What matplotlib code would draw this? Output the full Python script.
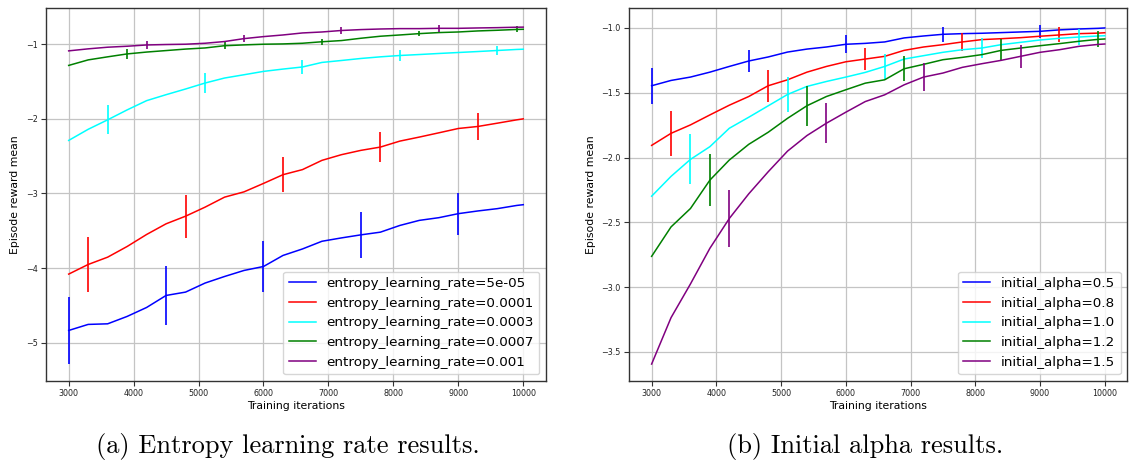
import matplotlib
matplotlib.use("Agg")
import matplotlib.pyplot as plt

# training iterations at which the curves were read (every 300 plus the end)
iters = list(range(3000, 10000, 300)) + [10000]

# (a) entropy learning rate
ent_labels = ["entropy_learning_rate=5e-05", "entropy_learning_rate=0.0001",
              "entropy_learning_rate=0.0003", "entropy_learning_rate=0.0007",
              "entropy_learning_rate=0.001"]
ent_5e05 = [-4.835, -4.754, -4.746, -4.647, -4.527, -4.366, -4.321, -4.200, -4.112, -4.031,
            -3.978, -3.830, -3.743, -3.640, -3.595, -3.554, -3.518, -3.428, -3.360, -3.324,
            -3.270, -3.234, -3.203, -3.160, -3.150]
ent_1e04 = [-4.080, -3.951, -3.853, -3.710, -3.549, -3.406, -3.304, -3.183, -3.049, -2.978,
            -2.865, -2.748, -2.680, -2.556, -2.480, -2.422, -2.378, -2.298, -2.244, -2.187,
            -2.129, -2.102, -2.058, -2.013, -2.000]
ent_3e04 = [-2.289, -2.140, -2.013, -1.880, -1.756, -1.676, -1.600, -1.520, -1.453, -1.409,
            -1.364, -1.333, -1.305, -1.244, -1.218, -1.191, -1.169, -1.151, -1.138, -1.124,
            -1.111, -1.098, -1.084, -1.070, -1.067]
ent_7e04 = [-1.284, -1.210, -1.169, -1.130, -1.105, -1.085, -1.065, -1.050, -1.020, -1.009,
            -1.000, -0.996, -0.987, -0.967, -0.951, -0.920, -0.893, -0.876, -0.858, -0.844,
            -0.836, -0.822, -0.813, -0.802, -0.800]
ent_1e03 = [-1.089, -1.062, -1.040, -1.027, -1.010, -1.004, -1.000, -0.987, -0.964, -0.925,
            -0.898, -0.876, -0.849, -0.836, -0.816, -0.804, -0.796, -0.791, -0.791, -0.787,
            -0.787, -0.782, -0.778, -0.772, -0.771]
ent_err = [[0.45, 0.40, 0.346, 0.306, 0.28],
           [0.364, 0.29, 0.236, 0.196, 0.184],
           [0.196, 0.133, 0.093, 0.071, 0.064],
           [0.07, 0.045, 0.042, 0.038, 0.04],
           [0.055, 0.045, 0.045, 0.045]]

# (b) initial alpha
alpha_labels = ["initial_alpha=0.5", "initial_alpha=0.8", "initial_alpha=1.0",
                "initial_alpha=1.2", "initial_alpha=1.5"]
alpha_05 = [-1.446, -1.405, -1.379, -1.341, -1.297, -1.255, -1.224, -1.186, -1.163, -1.147,
            -1.126, -1.119, -1.108, -1.077, -1.062, -1.049, -1.044, -1.041, -1.036, -1.031,
            -1.026, -1.015, -1.008, -1.003, -1.000]
alpha_08 = [-1.906, -1.813, -1.748, -1.671, -1.596, -1.529, -1.446, -1.400, -1.341, -1.297,
            -1.261, -1.240, -1.219, -1.173, -1.147, -1.129, -1.108, -1.090, -1.083, -1.075,
            -1.064, -1.054, -1.044, -1.040, -1.037]
alpha_10 = [-2.298, -2.145, -2.014, -1.916, -1.774, -1.689, -1.601, -1.513, -1.451, -1.413,
            -1.379, -1.343, -1.297, -1.240, -1.214, -1.188, -1.168, -1.155, -1.129, -1.111,
            -1.093, -1.080, -1.070, -1.062, -1.060]
alpha_12 = [-2.762, -2.535, -2.393, -2.174, -2.019, -1.898, -1.805, -1.697, -1.600, -1.529,
            -1.477, -1.426, -1.400, -1.315, -1.281, -1.245, -1.227, -1.206, -1.173, -1.155,
            -1.137, -1.121, -1.103, -1.088, -1.085]
alpha_15 = [-3.593, -3.235, -2.975, -2.700, -2.470, -2.280, -2.110, -1.950, -1.830, -1.735,
            -1.650, -1.568, -1.516, -1.439, -1.379, -1.348, -1.304, -1.276, -1.250, -1.219,
            -1.188, -1.168, -1.142, -1.127, -1.124]
alpha_err = [[0.138, 0.088, 0.068, 0.057, 0.049],
             [0.173, 0.124, 0.086, 0.068, 0.058],
             [0.193, 0.133, 0.098, 0.074, 0.061],
             [0.203, 0.153, 0.095, 0.084, 0.062],
             [0.223, 0.153, 0.11, 0.09]]

colors = ["blue", "red", "cyan", "green", "purple"]


def draw_panel(ax, series, errors, labels):
    for i, (ys, err, lab, col) in enumerate(zip(series, errors, labels, colors)):
        ax.plot(iters, ys, color=col, lw=1.1, label=lab)
        # error bars are staggered: every 5th point, shifted by one per run
        ex = iters[i::5][:len(err)]
        ey = ys[i::5][:len(err)]
        ax.errorbar(ex, ey, yerr=err, fmt="none", ecolor=col, elinewidth=1.2)
    ax.grid(True, color="#c4c4c4", lw=0.9)
    ax.set_axisbelow(True)
    ax.set_xlabel("Training iterations", fontsize=7.8, labelpad=2)
    ax.set_ylabel("Episode reward mean", fontsize=7.8, labelpad=4)
    ax.tick_params(labelsize=5.8, length=3.5, width=0.8, color="#333333",
                   labelcolor="#222222", pad=2.5)
    for sp in ax.spines.values():
        sp.set_color("#333333")
        sp.set_linewidth(1.0)
    ax.legend(loc="lower right", fontsize=9.7, framealpha=0.8)


fig = plt.figure(figsize=(11.29, 4.63), dpi=100)
ax1 = fig.add_axes([0.0407, 0.1771, 0.4429, 0.8056])
ax2 = fig.add_axes([0.5571, 0.1771, 0.4415, 0.8056])

draw_panel(ax1, [ent_5e05, ent_1e04, ent_3e04, ent_7e04, ent_1e03], ent_err, ent_labels)
draw_panel(ax2, [alpha_05, alpha_08, alpha_10, alpha_12, alpha_15], alpha_err, alpha_labels)

fig.text(0.255, 0.035, "(a) Entropy learning rate results.", family="cmr10",
         fontsize=19, ha="center", va="center")
fig.text(0.766, 0.035, "(b) Initial alpha results.", family="cmr10",
         fontsize=19, ha="center", va="center")

fig.savefig("out.png", dpi=100)
